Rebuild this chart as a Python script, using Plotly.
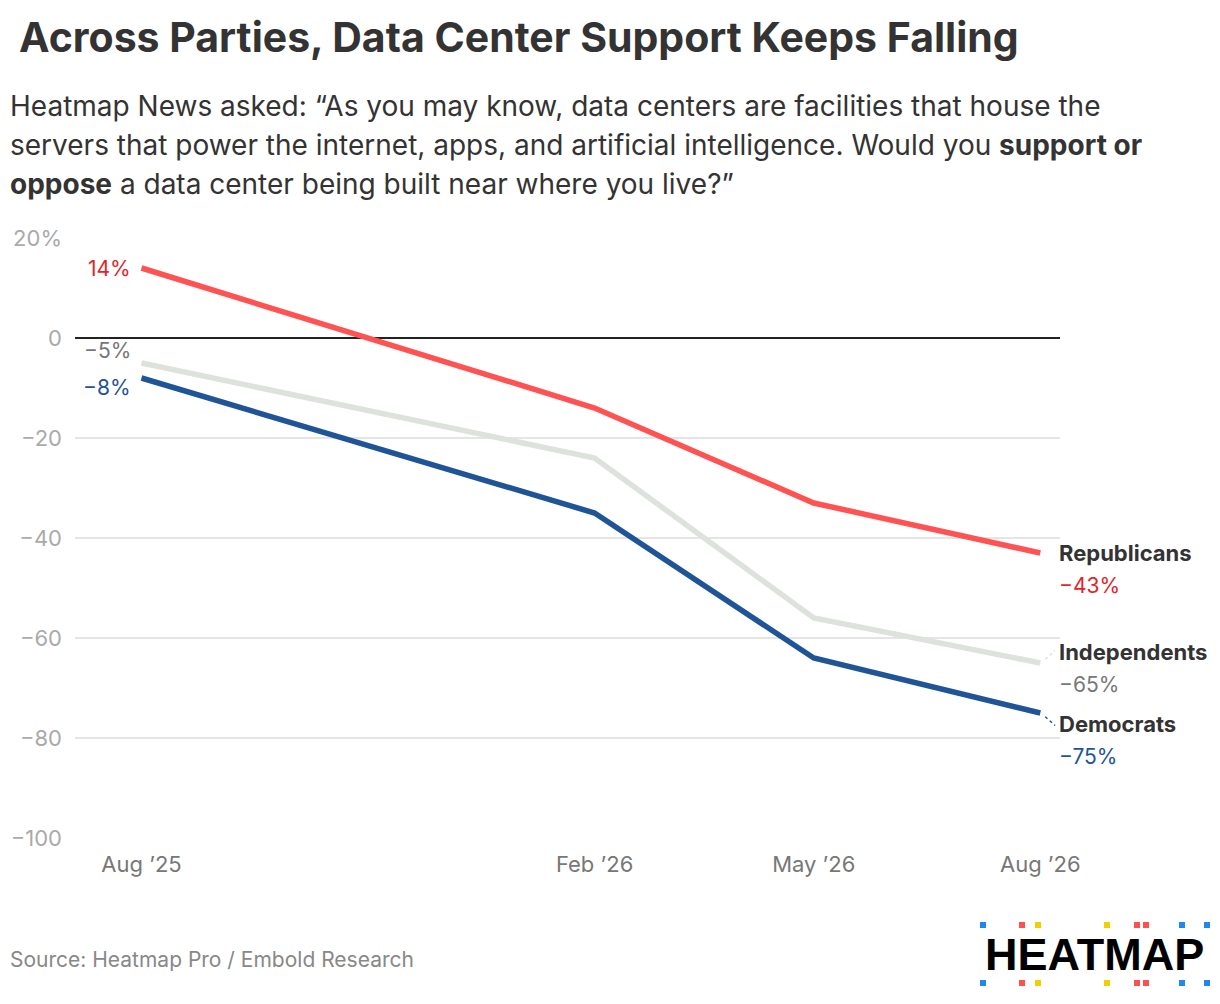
import plotly.graph_objects as go
from datetime import datetime, timedelta

# ---- data ----
dates = ["2025-08-15", "2026-02-15", "2026-05-15", "2026-08-15"]
date_labels = ["Aug ’25", "Feb ’26", "May ’26", "Aug ’26"]
republicans = [14, -14, -33, -43]
independents = [-5, -24, -56, -65]
democrats = [-8, -35, -64, -75]
y_ticks = [20, 0, -20, -40, -60, -80, -100]
y_tick_labels = ["20%", "0", "−20", "−40", "−60", "−80", "−100"]

FONT = "Inter"
OFF = 8  # page offset of the figure inside the browser window
W, H = 1220, 1004
PW, PH = 985, 600
L, T = 75 - OFF, 238 - OFF
R, B = W - L - PW, H - T - PH


def px(xp):
    return (xp - OFF - L) / PW


def py(yp):
    return (H - B - (yp - OFF)) / PH


def fmt(v):
    return ("−" if v < 0 else "") + f"{abs(v)}%"


series = [
    ("Republicans", republicans, "#ff5252", "#e3242b"),
    ("Independents", independents, "#dde2dc", "#777777"),
    ("Democrats", democrats, "#1f5596", "#1f5596"),
]

fig = go.Figure()
for name, vals, lc, tc in series:
    fig.add_trace(go.Scatter(x=dates, y=vals, mode="lines", name=name,
                             line=dict(color=lc, width=5.5), showlegend=False,
                             hoverinfo="skip"))

ann = []
# left start labels
left_shift = {"Republicans": 0, "Independents": 13, "Democrats": -9}
for name, vals, lc, tc in series:
    ann.append(dict(x=dates[0], y=vals[0], xref="x", yref="y", text=fmt(vals[0]),
                    showarrow=False, xanchor="right", yanchor="middle",
                    xshift=-8, yshift=left_shift[name],
                    font=dict(family=FONT, size=21, color=tc)))

# right end labels
right_shift = {"Republicans": 0, "Independents": 11, "Democrats": -11}
for name, vals, lc, tc in series:
    ann.append(dict(x=dates[-1], y=vals[-1], xref="x", yref="y", text=f"<b>{name}</b>",
                    showarrow=False, xanchor="left", yanchor="middle",
                    xshift=17, yshift=right_shift[name],
                    font=dict(family=FONT, size=22, color="#333333")))
    ann.append(dict(x=dates[-1], y=vals[-1], xref="x", yref="y", text=fmt(vals[-1]),
                    showarrow=False, xanchor="left", yanchor="middle",
                    xshift=17, yshift=right_shift[name] - 32,
                    font=dict(family=FONT, size=21, color=tc)))

# subtitle lines
sub_lines = [
    "Heatmap News asked: “As you may know, data centers are facilities that house the",
    "servers that power the internet, apps, and artificial intelligence. Would you <b>support or</b>",
    "<b>oppose</b> a data center being built near where you live?”",
]
for i, s in enumerate(sub_lines):
    ann.append(dict(x=px(8), y=py(106 + 39 * i), xref="paper", yref="paper", text=s,
                    showarrow=False, xanchor="left", yanchor="middle",
                    font=dict(family=FONT, size=28, color="#333333")))

# source
ann.append(dict(x=px(8), y=py(959), xref="paper", yref="paper",
                text="Source: Heatmap Pro / Embold Research", showarrow=False,
                xanchor="left", yanchor="middle",
                font=dict(family=FONT, size=21, color="#888888")))

# logo text
ann.append(dict(x=px(1094), y=py(954), xref="paper", yref="paper",
                text="<b>HEATMAP</b>", showarrow=False, xanchor="center", yanchor="middle",
                font=dict(family="Liberation Sans", size=45, color="#000000")))

shapes = []
# logo squares
sq = [(983, "#1e88f0"), (1022, "#ff4f4f"), (1038, "#f2d000"), (1107, "#f2d000"),
      (1137, "#ff4f4f"), (1146, "#ff4f4f"), (1182, "#1e88f0"), (1207, "#1e88f0")]
for cx, c in sq:
    for cy in (925, 983):
        shapes.append(dict(type="rect", xref="paper", yref="paper",
                           x0=px(cx - 3), x1=px(cx + 3), y0=py(cy + 3), y1=py(cy - 3),
                           fillcolor=c, line=dict(width=0)))

# dotted connectors for Independents / Democrats
end = datetime.strptime(dates[-1], "%Y-%m-%d")
for vals, c, dy in ((independents, "#dde2dc", 2.5), (democrats, "#1f5596", -2.5)):
    shapes.append(dict(type="line", xref="x", yref="y",
                       x0=(end + timedelta(days=2)).strftime("%Y-%m-%d"), y0=vals[-1] + dy * 0.3,
                       x1=(end + timedelta(days=6)).strftime("%Y-%m-%d"), y1=vals[-1] + dy,
                       line=dict(color=c, width=1.5, dash="dot")))

fig.update_layout(
    width=W, height=H,
    margin=dict(l=L, r=R, t=T, b=B, autoexpand=False),
    paper_bgcolor="white", plot_bgcolor="white",
    title=dict(text="<b>Across Parties, Data Center Support Keeps Falling</b>",
               x=(19 - OFF) / W, xanchor="left", y=1 - (38 - OFF) / H, yanchor="middle",
               font=dict(family=FONT, size=41, color="#333333")),
    xaxis=dict(type="date", range=["2025-07-19", "2026-08-23"], automargin=False,
               tickvals=dates, ticktext=date_labels, showgrid=False, zeroline=False,
               showline=False, ticks="", ticklabelstandoff=11,
               tickfont=dict(family=FONT, size=22, color="#777777")),
    yaxis=dict(range=[-100, 20], tickvals=y_ticks, ticktext=y_tick_labels, automargin=False,
               showgrid=True, gridcolor="#e5e5e5", gridwidth=1.5,
               zeroline=True, zerolinecolor="#222222", zerolinewidth=1.5,
               showline=False, ticks="", ticklabelstandoff=12,
               tickfont=dict(family=FONT, size=22, color="#aaaaaa")),
    annotations=ann, shapes=shapes,
)

fig.write_html("out.html")
